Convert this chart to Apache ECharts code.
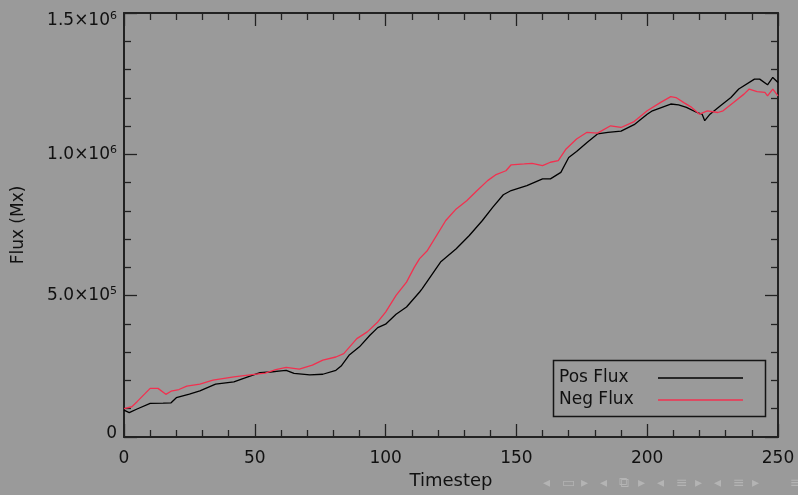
<!DOCTYPE html>
<html>
<head>
<meta charset="utf-8">
<script src="https://cdn.jsdelivr.net/npm/echarts@6/dist/echarts.min.js"></script>
<style>
html,body{margin:0;padding:0;background:#9a9a9a;}
#chart{width:798px;height:495px;}
</style>
</head>
<body>
<div id="chart"></div>
<script>
// ---- data ----
const posT = [0,2,5,10,15,18,20,25,29,35,42,46,52,56,60,62,65,71,76,81,83,86,90,94,97,100,104,108,113,114,121,127,132,137,141,145,148,154,160,163,167,170,173,177,181,185,190,195,200,202,209,212,215,219,221,222,224,228,232,235,241,243,246,248,250];
const posFlux = [95e3,86e3,99e3,119e3,120e3,121e3,139e3,152e3,163e3,187e3,195e3,208e3,228e3,230e3,234e3,236e3,225e3,220e3,222e3,236e3,251e3,289e3,319e3,360e3,387e3,399e3,434e3,460e3,513e3,525e3,619e3,666e3,713e3,766e3,813e3,857e3,872e3,889e3,913e3,913e3,936e3,989e3,1010e3,1042e3,1072e3,1078e3,1082e3,1105e3,1142e3,1154e3,1178e3,1175e3,1166e3,1148e3,1142e3,1119e3,1142e3,1172e3,1201e3,1231e3,1266e3,1266e3,1246e3,1272e3,1254e3];
const negT = [0,3,5,10,13,16,18,21,24,29,34,42,49,54,58,62,67,72,76,81,84,89,93,97,100,104,108,111,113,116,123,127,131,135,139,142,146,148,153,156,160,163,166,169,173,177,181,186,190,195,200,205,209,211,214,217,220,223,227,229,233,237,239,242,245,246,248,250];
const negFlux = [100e3,107e3,125e3,172e3,172e3,151e3,162e3,168e3,180e3,187e3,201e3,213e3,221e3,226e3,238e3,246e3,240e3,254e3,272e3,283e3,295e3,348e3,372e3,407e3,442e3,501e3,548e3,601e3,631e3,660e3,766e3,807e3,836e3,872e3,907e3,927e3,942e3,963e3,966e3,968e3,960e3,972e3,978e3,1019e3,1054e3,1078e3,1075e3,1101e3,1095e3,1116e3,1154e3,1183e3,1204e3,1201e3,1183e3,1166e3,1142e3,1154e3,1148e3,1154e3,1183e3,1213e3,1231e3,1222e3,1219e3,1207e3,1231e3,1207e3];
const seriesNames = ['Pos Flux','Neg Flux'];
const yTickValues = [0, 500000, 1000000, 1500000];
const yTickMantissa = ['0', '5.0', '1.0', '1.5'];
const yTickExponent = ['', '5', '6', '6'];
const xTickValues = [0, 50, 100, 150, 200, 250];
const xAxisTitle = 'Timestep';
const yAxisTitle = 'Flux (Mx)';
const toolbarGlyphs = ['◂','▭','▸','◂','⧉','▸','◂','≡','▸','◂','≡','▸','','≡'];

// ---- chart ----
const FONT = 'DejaVu Sans';
const TXT = '#111';
const AX = '#222';
const chart = echarts.init(document.getElementById('chart'), null, {renderer:'canvas'});

function yLabel(v){
  const i = yTickValues.indexOf(v);
  if (i < 0) return '';
  if (yTickExponent[i] === '') return '{m|' + yTickMantissa[i] + '}\n{sp| }';
  const body = '{m|' + yTickMantissa[i] + '×10}{s|' + yTickExponent[i] + '}';
  if (i === yTickValues.length - 1) return '{sp2| }\n' + body;
  return body;
}

const commonTick = {show:true, inside:true, length:13, lineStyle:{color:AX, width:1.3}};
const commonMinor = {show:true, splitNumber:5, length:7, lineStyle:{color:AX, width:1.3}};

const toolbar = toolbarGlyphs.map((g, k) => ({
  type:'text', left:543 + k*19, top:476, silent:true,
  style:{text:g, fill:'#b4b4b4', fontSize:14, fontFamily:FONT}
}));

chart.setOption({
  backgroundColor:'#9a9a9a',
  animation:false,
  textStyle:{fontFamily:FONT},
  grid:{left:124, right:20, top:12, bottom:58, containLabel:false},
  xAxis:[{
    type:'value', min:0, max:250, interval:50, position:'bottom',
    axisLine:{show:true, onZero:false, lineStyle:{color:AX, width:2}},
    axisTick:commonTick, minorTick:commonMinor,
    splitLine:{show:false},
    axisLabel:{show:true, margin:13, color:TXT, fontSize:17, fontFamily:FONT,
      formatter:(v)=> xTickValues.indexOf(v) >= 0 ? String(v) : ''},
    name:xAxisTitle, nameLocation:'middle', nameGap:35,
    nameTextStyle:{color:TXT, fontSize:18, fontFamily:FONT}
  },{
    type:'value', min:0, max:250, interval:50, position:'top',
    axisLine:{show:true, onZero:false, lineStyle:{color:AX, width:2}},
    axisTick:commonTick, minorTick:commonMinor,
    splitLine:{show:false}, axisLabel:{show:false}
  }],
  yAxis:[{
    type:'value', min:0, max:1500000, interval:500000, position:'left',
    axisLine:{show:true, onZero:false, lineStyle:{color:AX, width:2}},
    axisTick:commonTick, minorTick:commonMinor,
    splitLine:{show:false},
    axisLabel:{show:true, margin:7, color:TXT, formatter:yLabel,
      rich:{
        m:{fontSize:17, fontFamily:FONT, color:TXT, lineHeight:20},
        s:{fontSize:11, fontFamily:FONT, color:TXT, lineHeight:11, verticalAlign:'top'},
        sp:{fontSize:6, lineHeight:6},
        sp2:{fontSize:6, lineHeight:16}
      }},
    name:yAxisTitle, nameLocation:'middle', nameGap:97, nameRotate:90,
    nameTextStyle:{color:TXT, fontSize:17, fontFamily:FONT}
  },{
    type:'value', min:0, max:1500000, interval:500000, position:'right',
    axisLine:{show:true, onZero:false, lineStyle:{color:AX, width:2}},
    axisTick:commonTick, minorTick:commonMinor,
    splitLine:{show:false}, axisLabel:{show:false}
  }],
  legend:{
    show:true, orient:'vertical', left:559, top:369, align:'right',
    icon:'rect', itemWidth:85, itemHeight:1.5, itemGap:4, padding:0,
    data:seriesNames,
    formatter:(name)=> '{t|' + name + '}',
    textStyle:{color:TXT, fontSize:17, fontFamily:FONT, lineHeight:18,
      rich:{t:{width:94, align:'left', fontSize:17, fontFamily:FONT, color:TXT, lineHeight:18}}}
  },
  graphic:[
    {type:'rect', left:551, top:358, shape:{width:212, height:56},
     style:{fill:'none', stroke:'#151515', lineWidth:1.5}, silent:true, z:10}
  ].concat(toolbar),
  series:[
    {name:seriesNames[0], type:'line', xAxisIndex:0, yAxisIndex:0, showSymbol:false, symbol:'none',
     lineStyle:{color:'#000000', width:1.3}, itemStyle:{color:'#000000'},
     data:posT.map((t,i)=>[t, posFlux[i]])},
    {name:seriesNames[1], type:'line', xAxisIndex:0, yAxisIndex:0, showSymbol:false, symbol:'none',
     lineStyle:{color:'#f2304f', width:1.3}, itemStyle:{color:'#f2304f'},
     data:negT.map((t,i)=>[t, negFlux[i]])}
  ]
});
</script>
</body>
</html>
